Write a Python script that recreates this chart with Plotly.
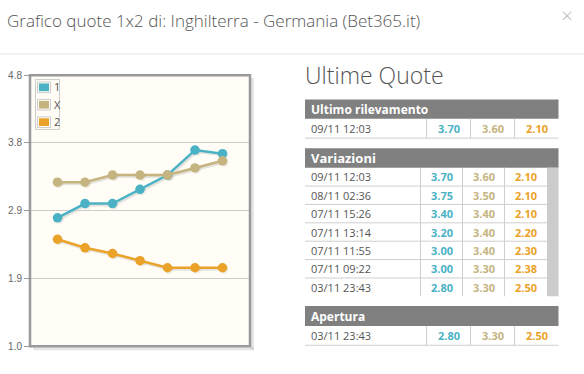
import plotly.graph_objects as go

# ---------------- data ----------------
dates = ["03/11 23:43", "07/11 09:22", "07/11 11:55", "07/11 13:14",
         "07/11 15:26", "08/11 02:36", "09/11 12:03"]
quota_1 = [2.80, 3.00, 3.00, 3.20, 3.40, 3.75, 3.70]
quota_x = [3.30, 3.30, 3.40, 3.40, 3.40, 3.50, 3.60]
quota_2 = [2.50, 2.38, 2.30, 2.20, 2.10, 2.10, 2.10]
series_names = ["1", "X", "2"]
series_colors = ["#4bb2c5", "#c5b47f", "#eaa228"]
ytick_vals = [1.0, 1.95, 2.9, 3.85, 4.8]
ytick_text = ["1.0", "1.9", "2.9", "3.8", "4.8"]
title_text = "Grafico quote 1x2 di: Inghilterra - Germania (Bet365.it)"
panel_title = "Ultime Quote"
section_titles = ["Ultimo rilevamento", "Variazioni", "Apertura"]

# ---------------- helpers ----------------
W, H = 584, 374
FONT = "Open Sans"


def px(x):
    return x / W


def py(y):
    return 1 - y / H


shapes = []
annotations = []


def rect(x0, y0, x1, y1, fill=None, line=None, lw=1, layer="above"):
    shapes.append(dict(type="rect", xref="paper", yref="paper",
                       x0=px(x0), x1=px(x1), y0=py(y1), y1=py(y0),
                       fillcolor=fill or "rgba(0,0,0,0)",
                       line=dict(color=line or "rgba(0,0,0,0)", width=lw if line else 0),
                       layer=layer))


def seg(x0, y0, x1, y1, color, lw=1, layer="above"):
    shapes.append(dict(type="line", xref="paper", yref="paper",
                       x0=px(x0), x1=px(x1), y0=py(y0), y1=py(y1),
                       line=dict(color=color, width=lw), layer=layer))


def text(x, y, s, size, color, weight=400, xanchor="left", family=FONT):
    annotations.append(dict(x=px(x), y=py(y), xref="paper", yref="paper", text=s,
                            showarrow=False, xanchor=xanchor, yanchor="middle",
                            borderpad=0,
                            font=dict(family=family, size=size, color=color, weight=weight)))


# ---------------- chart ----------------
L, R, T, B = 30, 250, 71.5, 351.5
series = [quota_1, quota_x, quota_2]
xs = list(range(1, len(dates) + 1))
xrange_ = [0, len(dates) + 1]
yrange_ = [ytick_vals[0], ytick_vals[-1]]

fig = go.Figure()
# shadows (subplot x/y, shifted down-right)
for vals in series:
    fig.add_trace(go.Scatter(x=xs, y=vals, xaxis="x", yaxis="y", mode="lines+markers",
                             line=dict(color="rgba(0,0,0,0.10)", width=3),
                             marker=dict(size=9, color="rgba(0,0,0,0.07)"),
                             hoverinfo="skip", showlegend=False))
# main series
for name, vals, col in zip(series_names, series, series_colors):
    fig.add_trace(go.Scatter(x=xs, y=vals, xaxis="x2", yaxis="y2", name=name,
                             mode="lines+markers",
                             line=dict(color=col, width=2.5),
                             marker=dict(size=9.5, color=col),
                             showlegend=False))

dx, dy = 1.5, 1.5
# cream background
rect(L, T, R, B, fill="#fffdf6", layer="below")
# frame shadow
seg(R + 2.5, T + 3, R + 2.5, B + 3.5, "rgba(0,0,0,0.10)", 3, layer="below")
seg(L + 3, B + 2.5, R + 4, B + 2.5, "rgba(0,0,0,0.10)", 3, layer="below")
# frame
rect(L, T, R, B, line="#999999", lw=2.5)

# legend
rect(35.5, 76, 59.5, 127.5, line="#cccccc", lw=1)
for k, (name, col) in enumerate(zip(series_names, series_colors)):
    yo = 18 * k
    rect(37.5, 78.5 + yo, 50.5, 89.5 + yo, line="#cccccc", lw=1)
    rect(39, 80 + yo, 49, 88 + yo, fill=col)
    text(53, 83.5 + yo, name, 11, "#555555")

# ---------------- header ----------------
text(6, 15, title_text, 17, "#555555", weight=300)
text(567, 9.5, "×", 21, "#bbbbbb", weight=300, xanchor="center")
seg(0, 49.5, W, 49.5, "#e5e5e5", 1)

# ---------------- tables ----------------
HEAD = "#808080"
LINE = "#cfcfcf"
TL, TR = 305, 558.5
text(304, 71, panel_title, 23, "#555555", weight=300)


def draw_row(y0, y1, i, divs, right, bottom=True):
    cy = (y0 + y1) / 2
    text(310, cy, dates[i], 11, "#555555")
    edges = divs + [right]
    for d in divs:
        seg(d, y0, d, y1, LINE)
    for j, vals in enumerate(series):
        cx = (edges[j] + edges[j + 1]) / 2
        text(cx, cy, f"{vals[i]:.2f}", 11, series_colors[j], weight=700, xanchor="center")
    if bottom:
        seg(TL, y1, right, y1, LINE)


n = len(dates)
# Ultimo rilevamento
rect(TL, 96.5, TR, 116.5, fill=HEAD)
text(309.5, 106.5, section_titles[0], 12, "#ffffff", weight=700)
draw_row(116.5, 136.5, n - 1, [426.5, 470.5, 514.5], TR)

# Variazioni
rect(TL, 147, TR, 167, fill=HEAD)
text(309.5, 157, section_titles[1], 13, "#ffffff", weight=700)
row_h = 19
for i, idx in enumerate(reversed(range(n))):
    y0 = 167 + row_h * i
    draw_row(y0, y0 + row_h, idx, [420.5, 462.5, 504.5], 547, bottom=(i < n - 1))
rect(547, 167, TR, 167 + row_h * n, fill="#cccccc")

# Apertura
rect(TL, 310, TR, 330.5, fill=HEAD)
text(309.5, 320.5, section_titles[2], 12, "#ffffff", weight=700)
draw_row(330.5, 350.5, 0, [426.5, 470.5, 514.5], TR)

# ---------------- layout ----------------
fig.update_layout(
    width=W, height=H, margin=dict(l=0, r=0, t=0, b=0),
    paper_bgcolor="#ffffff", plot_bgcolor="rgba(0,0,0,0)",
    showlegend=False, shapes=shapes, annotations=annotations,
    xaxis=dict(domain=[px(L + dx), px(R + dx)], range=xrange_, visible=False, anchor="y"),
    yaxis=dict(domain=[py(B + dy), py(T + dy)], range=yrange_, visible=False, anchor="x"),
    xaxis2=dict(domain=[px(L), px(R)], range=xrange_, visible=False, anchor="y2"),
    yaxis2=dict(domain=[py(B), py(T)], range=yrange_, anchor="x2",
                tickvals=ytick_vals, ticktext=ytick_text,
                ticks="outside", ticklen=5, tickcolor="#999999", tickwidth=1,
                tickfont=dict(family="Liberation Sans, Arial", size=10, color="#666666"),
                showgrid=True, gridcolor="#cccccc", gridwidth=1,
                zeroline=False, showline=False),
)

fig.write_html("out.html")
